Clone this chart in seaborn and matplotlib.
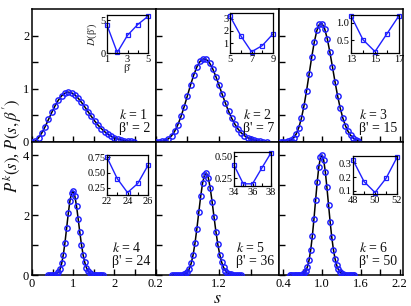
import matplotlib
matplotlib.use("Agg")
import matplotlib.pyplot as plt
import seaborn as sns

# ── Style ─────────────────────────────────────────────────────
sns.set_theme(style="ticks")
plt.rcParams.update({
    "font.family": ["Liberation Serif", "DejaVu Serif"],
    "mathtext.fontset": "stix",
    "axes.linewidth": 1.1,
    "axes.edgecolor": "black",
    "xtick.direction": "in",
    "ytick.direction": "in",
    "xtick.color": "black",
    "ytick.color": "black",
    "text.color": "#111111",
})

BLUE = "#1f1fff"

# ── Data: spacing distributions (markers + curve) ─────────────
s1 = [0.00, 0.08, 0.16, 0.24, 0.32, 0.40, 0.48, 0.56, 0.64, 0.72, 0.80,
      0.88, 0.96, 1.04, 1.12, 1.20, 1.28, 1.36, 1.44, 1.52, 1.60, 1.68,
      1.76, 1.84, 1.92, 2.00, 2.08, 2.16, 2.24, 2.32, 2.40, 2.48]
p1 = [0.000, 0.021, 0.080, 0.174, 0.291, 0.423, 0.557, 0.682, 0.788, 0.869,
      0.919, 0.937, 0.924, 0.885, 0.823, 0.746, 0.660, 0.569, 0.480, 0.395,
      0.319, 0.252, 0.195, 0.147, 0.109, 0.080, 0.057, 0.040, 0.027, 0.018,
      0.012, 0.008]

s2 = [0.20, 0.25, 0.30, 0.35, 0.40, 0.45, 0.50, 0.55, 0.60, 0.65, 0.70,
      0.75, 0.80, 0.85, 0.90, 0.95, 1.00, 1.05, 1.10, 1.15, 1.20, 1.25,
      1.30, 1.35, 1.40, 1.45, 1.50, 1.55, 1.60, 1.65, 1.70, 1.75, 1.80,
      1.85, 1.90, 1.95]
p2 = [0.001, 0.003, 0.010, 0.027, 0.060, 0.116, 0.203, 0.325, 0.481, 0.666,
      0.868, 1.072, 1.258, 1.411, 1.515, 1.563, 1.551, 1.485, 1.373, 1.228,
      1.064, 0.893, 0.728, 0.576, 0.443, 0.332, 0.242, 0.171, 0.118, 0.080,
      0.052, 0.034, 0.021, 0.013, 0.008, 0.004]

s3 = [0.36, 0.40, 0.44, 0.48, 0.52, 0.56, 0.60, 0.64, 0.68, 0.72, 0.76,
      0.80, 0.84, 0.88, 0.92, 0.96, 1.00, 1.04, 1.08, 1.12, 1.16, 1.20,
      1.24, 1.28, 1.32, 1.36, 1.40, 1.44, 1.48, 1.52, 1.56]
p3 = [0.000, 0.002, 0.005, 0.014, 0.035, 0.076, 0.150, 0.268, 0.442, 0.675,
      0.959, 1.276, 1.595, 1.880, 2.096, 2.215, 2.225, 2.128, 1.942, 1.694,
      1.414, 1.131, 0.867, 0.639, 0.453, 0.309, 0.202, 0.128, 0.078, 0.046,
      0.026]

s4 = [0.40, 0.44, 0.48, 0.52, 0.56, 0.60, 0.64, 0.68, 0.72, 0.76, 0.80,
      0.84, 0.88, 0.92, 0.96, 1.00, 1.04, 1.08, 1.12, 1.16, 1.20, 1.24,
      1.28, 1.32, 1.36, 1.40, 1.44, 1.48, 1.52, 1.56, 1.60, 1.64, 1.68,
      1.72]
p4 = [0.000, 0.000, 0.001, 0.003, 0.011, 0.034, 0.086, 0.194, 0.385, 0.682,
      1.087, 1.569, 2.063, 2.481, 2.742, 2.795, 2.636, 2.307, 1.879, 1.427,
      1.013, 0.673, 0.419, 0.245, 0.135, 0.070, 0.034, 0.016, 0.007, 0.003,
      0.001, 0.000, 0.000, 0.000]

s5 = [0.46, 0.49, 0.52, 0.55, 0.58, 0.61, 0.64, 0.67, 0.70, 0.73, 0.76,
      0.79, 0.82, 0.85, 0.88, 0.91, 0.94, 0.97, 1.00, 1.03, 1.06, 1.09,
      1.12, 1.15, 1.18, 1.21, 1.24, 1.27, 1.30, 1.33, 1.36, 1.39, 1.42,
      1.45, 1.48, 1.51, 1.54]
p5 = [0.000, 0.000, 0.000, 0.001, 0.002, 0.006, 0.017, 0.044, 0.100, 0.207,
      0.389, 0.671, 1.064, 1.554, 2.101, 2.636, 3.077, 3.350, 3.411, 3.253,
      2.912, 2.450, 1.942, 1.451, 1.024, 0.683, 0.431, 0.258, 0.146, 0.079,
      0.040, 0.020, 0.009, 0.004, 0.002, 0.001, 0.000]

s6 = [0.500, 0.525, 0.550, 0.575, 0.600, 0.625, 0.650, 0.675, 0.700, 0.725,
      0.750, 0.775, 0.800, 0.825, 0.850, 0.875, 0.900, 0.925, 0.950, 0.975,
      1.000, 1.025, 1.050, 1.075, 1.100, 1.125, 1.150, 1.175, 1.200, 1.225,
      1.250, 1.275, 1.300, 1.325, 1.350, 1.375, 1.400, 1.425, 1.450, 1.475,
      1.500]
p6 = [0.000, 0.000, 0.000, 0.000, 0.000, 0.001, 0.004, 0.011, 0.028, 0.066,
      0.143, 0.281, 0.508, 0.848, 1.310, 1.879, 2.506, 3.116, 3.619, 3.935,
      4.011, 3.840, 3.457, 2.931, 2.344, 1.770, 1.263, 0.853, 0.546, 0.331,
      0.191, 0.104, 0.054, 0.027, 0.013, 0.006, 0.002, 0.001, 0.000, 0.000,
      0.000]

# ── Data: insets D(beta') ─────────────────────────────────────
b1 = [1, 2, 3, 4, 5]
d1 = [4.25, 0.08, 2.70, 4.35, 5.60]
b2 = [5, 6, 7, 8, 9]
d2 = [3.20, 1.60, 0.30, 0.80, 1.75]
b3 = [13, 14, 15, 16, 17]
d3 = [1.19, 0.52, 0.19, 0.69, 1.19]
b4 = [22, 23, 24, 25, 26]
d4 = [0.75, 0.40, 0.17, 0.32, 0.62]
b5 = [34, 35, 36, 37, 38]
d5 = [0.40, 0.185, 0.185, 0.365, 0.54]
b6 = [48, 49, 50, 51, 52]
d6 = [0.325, 0.167, 0.086, 0.19, 0.345]

k_vals = [1, 2, 3, 4, 5, 6]
beta_vals = [2, 7, 15, 24, 36, 50]

# ── Figure layout ─────────────────────────────────────────────
W, H = 411, 306
fig = plt.figure(figsize=(W / 100, H / 100), dpi=100)

x0, x1 = 32, 403
y_top, y_mid, y_bot = 9, 142, 275
cw = (x1 - x0) / 3


def fig_rect(left, top, right, bottom):
    return [left / W, 1 - bottom / H, (right - left) / W, (bottom - top) / H]


panels = [(s1, p1), (s2, p2), (s3, p3), (s4, p4), (s5, p5), (s6, p6)]
insets = [(b1, d1), (b2, d2), (b3, d3), (b4, d4), (b5, d5), (b6, d6)]

col_xlim = [(0, 3), (0.2, 2.15), (0.34, 2.25)]
col_xticks = [[0, 0.5, 1, 1.5, 2, 2.5],
              [0.2, 0.7, 1.2, 1.7],
              [0.4, 0.7, 1.0, 1.3, 1.6, 1.9, 2.2]]
col_xlabels = [["0", "", "1", "", "2", ""],
               ["0.2", "", "1.2", ""],
               ["0.4", "", "1.0", "", "1.6", "", "2.2"]]
row_ylim = [(0, 2.5), (0, 4.45)]
row_yticks = [[0, 0.5, 1, 1.5, 2], [0, 1, 2, 3, 4]]
row_ylabels = [["0", "", "1", "", "2"], ["0", "", "2", "", "4"]]

inset_boxes = [(107, 15, 148, 53), (230, 13, 273, 53), (351, 15, 399, 53),
               (107, 155, 148, 195), (234, 152, 271, 186), (353, 156, 397, 194)]
inset_ylim = [(0, 5.8), (0.2, 3.45), (0.15, 1.21),
              (0.13, 0.79), (0.16, 0.55), (0.075, 0.355)]
inset_yticks = [[0, 5], [1, 2, 3], [0.5, 1.0],
                [0.25, 0.5, 0.75], [0.25, 0.5], [0.1, 0.2, 0.3]]
inset_ylabels = [["0", "5"], ["1", "2", "3"], ["0.5", "1.0"],
                 ["0.25", "0.50", "0.75"], ["0.25", "0.50"], ["0.1", "0.2", "0.3"]]

for i, (s, p) in enumerate(panels):
    row, col = divmod(i, 3)
    top = y_top if row == 0 else y_mid
    bot = y_mid if row == 0 else y_bot
    ax = fig.add_axes(fig_rect(x0 + col * cw, top, x0 + (col + 1) * cw, bot))

    sns.lineplot(x=s, y=p, ax=ax, color="black", linewidth=1.1, zorder=2)
    ax.plot(s, p, linestyle="none", marker="o", markersize=3.8,
            markerfacecolor="none", markeredgecolor=BLUE,
            markeredgewidth=1.05, zorder=3)

    ax.set_xlim(*col_xlim[col])
    ax.set_ylim(*row_ylim[row])
    ax.set_xticks(col_xticks[col])
    ax.set_yticks(row_yticks[row])
    if row == 1:
        ax.set_xticklabels(col_xlabels[col])
    else:
        ax.set_xticklabels([])
    if col == 0:
        ax.set_yticklabels(row_ylabels[row])
    else:
        ax.set_yticklabels([])
    ax.set_xlabel("")
    ax.set_ylabel("")
    ax.tick_params(length=4, width=1.0, labelsize=9, pad=2)
    for sp in ax.spines.values():
        sp.set_visible(True)
        sp.set_linewidth(1.1)

    ax.text(0.955, 0.055, f"$k$ = {k_vals[i]}\nβ' = {beta_vals[i]}",
            transform=ax.transAxes, ha="right", va="bottom",
            multialignment="left", fontsize=10, linespacing=0.95)

    # inset
    bx, dy = insets[i]
    l, t, r, b = inset_boxes[i]
    ins = fig.add_axes(fig_rect(l, t, r, b))
    sns.lineplot(x=bx, y=dy, ax=ins, color=BLUE, linewidth=1.0,
                 marker="s", markersize=3, markerfacecolor="none",
                 markeredgecolor=BLUE, markeredgewidth=0.9, clip_on=False)
    ins.set_xlim(bx[0], bx[-1])
    ins.set_ylim(*inset_ylim[i])
    ins.set_xticks(bx)
    ins.set_xticklabels([str(bx[0]), "", str(bx[2]), "", str(bx[4])])
    ins.set_yticks(inset_yticks[i])
    ins.set_yticklabels(inset_ylabels[i])
    ins.set_xlabel("")
    ins.set_ylabel("")
    ins.tick_params(length=2, width=0.8, labelsize=7.5, pad=1.2)
    for sp in ins.spines.values():
        sp.set_visible(True)
        sp.set_linewidth(0.9)
    if i == 0:
        ins.set_ylabel("$D$(β')", fontsize=7.5, labelpad=1)
        ins.set_xlabel("β'", fontsize=8, labelpad=0)

fig.text(0.031, 0.523, r"$P^k(s)$, $P(s,\beta')$", rotation=90,
         ha="center", va="center", fontsize=12)
fig.text(0.529, 0.024, "$s$", ha="center", va="center", fontsize=13)

fig.savefig("out.png", dpi=100)
